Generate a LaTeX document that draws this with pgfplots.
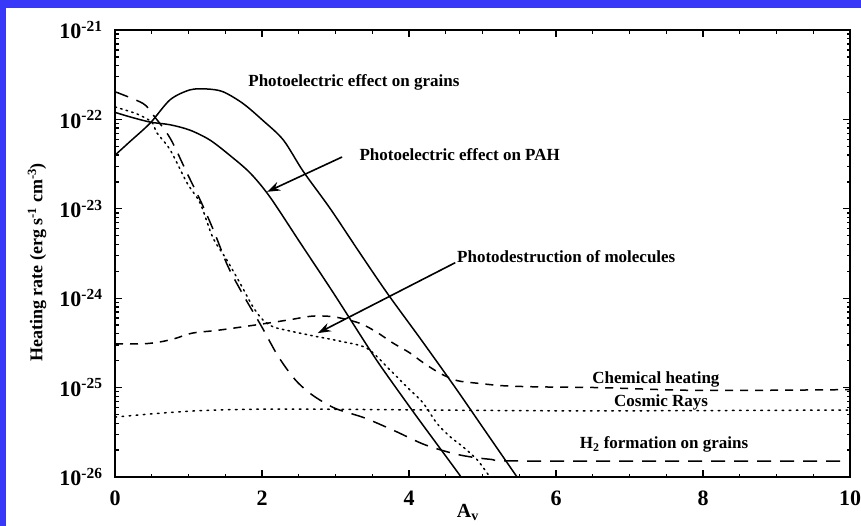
\documentclass[border=0pt]{standalone}
\usepackage{fontspec}
\setmainfont{Liberation Serif}
\usepackage{pgfplots}
\pgfplotsset{compat=1.18}
\usetikzlibrary{arrows.meta}
\definecolor{frameblue}{RGB}{56,56,248}
\newcommand{\lab}{\fontsize{17}{20}\selectfont\bfseries}
\begin{document}
\begin{tikzpicture}[x=1pt,y=1pt]
\path[use as bounding box] (0,0) rectangle (861,526);
\fill[frameblue] (0,0) rectangle (861,526);
\fill[white] (6,0) rectangle (861,518);
\begin{axis}[
    at={(115pt,49pt)}, anchor=south west, scale only axis,
    width=735pt, height=447pt,
    xmin=0, xmax=10, ymode=log, ymin=1e-26, ymax=1e-21,
    xtick={0,2,4,6,8,10}, xticklabels={0,2,4,6,8,10},
    minor x tick num=3,
    ytick={1e-26,1e-25,1e-24,1e-23,1e-22,1e-21},
    yticklabels={10\textsuperscript{-26},10\textsuperscript{-25},
        10\textsuperscript{-24},10\textsuperscript{-23},
        10\textsuperscript{-22},10\textsuperscript{-21}},
    tick label style={font=\fontsize{22}{24}\selectfont\bfseries},
    xticklabel style={yshift=-10pt},
    yticklabel style={xshift=-9pt},
    axis line style={line width=1.8pt},
    tick style={line width=1.3pt, black},
    major tick length=7pt, minor tick length=3.5pt,
    xlabel={A\textsubscript{v}},
    xlabel style={font=\fontsize{20}{22}\selectfont\bfseries,
        at={(axis description cs:0.48,-0.08)}, anchor=center},
    ylabel={Heating rate (erg s\textsuperscript{-1} cm\textsuperscript{-3})},
    ylabel style={font=\fontsize{18}{20}\selectfont\bfseries,
        at={(axis description cs:-0.106,0.48)}, anchor=center},
    every axis plot/.append style={line width=1.5pt, black, smooth,
        line join=round},
]
    % photoelectric effect on grains
    \addplot[solid] coordinates {
        (0,3.98e-23) (0.20,5.62e-23) (0.48,9.12e-23) (0.75,1.66e-22)
        (1.02,2.14e-22) (1.25,2.19e-22) (1.47,2.04e-22) (1.74,1.51e-22)
        (2.01,9.77e-23) (2.29,5.89e-23) (2.56,2.63e-23) (2.93,1.0e-23)
        (3.32,3.31e-24) (3.71,1.12e-24) (4.17,3.39e-25) (4.63,1.0e-25)
        (5.05,3.16e-26) (5.47,1.0e-26) (5.52,8.8e-27)};
    % photoelectric effect on PAH
    \addplot[solid] coordinates {
        (0,1.20e-22) (0.20,1.07e-22) (0.48,9.33e-23) (0.75,8.71e-23)
        (1.02,7.59e-23) (1.29,5.89e-23) (1.56,3.98e-23) (1.84,2.51e-23)
        (2.11,1.35e-23) (2.52,4.17e-24) (2.97,1.15e-24) (3.43,2.95e-25)
        (3.65,1.58e-25) (4.11,4.68e-26) (4.69,1.05e-26) (4.73,9.1e-27)};
    % photodestruction of molecules
    \addplot[dash pattern=on 1.6pt off 4.2pt, line cap=round] coordinates {
        (0,1.38e-22) (0.30,1.15e-22) (0.50,9.33e-23) (0.57,7.08e-23)
        (0.75,4.57e-23) (0.98,1.95e-23) (1.16,1.15e-23) (1.33,4.79e-24)
        (1.52,2.69e-24) (1.70,1.48e-24) (1.88,7.94e-25) (2.01,5.75e-25)
        (2.15,4.79e-25) (2.34,4.37e-25) (2.69,3.80e-25) (3.06,3.31e-25)
        (3.43,2.75e-25) (3.74,1.58e-25) (3.97,1.02e-25) (4.19,6.76e-26)
        (4.38,3.98e-26) (4.56,2.82e-26) (4.73,2.19e-26) (4.93,1.55e-26)
        (5.10,1.0e-26)};
    % H2 formation on grains
    \addplot[dash pattern=on 14pt off 9pt] coordinates {
        (0,2.04e-22) (0.38,1.51e-22) (0.52,1.12e-22) (0.75,6.17e-23)
        (0.98,2.51e-23) (1.18,1.15e-23) (1.35,5.50e-24) (1.54,2.24e-24)
        (1.77,1.00e-24) (1.99,4.90e-25) (2.22,2.24e-25) (2.45,1.23e-25)
        (2.68,8.32e-26) (2.99,5.89e-26) (3.40,4.57e-26) (3.82,3.24e-26)
        (4.22,2.29e-26) (4.67,1.78e-26) (5.10,1.58e-26) (5.65,1.51e-26)
        (10,1.51e-26)};
    % chemical heating
    \addplot[dash pattern=on 8pt off 7pt] coordinates {
        (0,3.09e-25) (0.38,3.09e-25) (0.61,3.24e-25) (0.82,3.55e-25)
        (1.05,4.07e-25) (1.39,4.37e-25) (1.74,4.79e-25) (2.07,5.25e-25)
        (2.38,5.75e-25) (2.69,6.31e-25) (2.99,6.17e-25) (3.33,5.25e-25)
        (3.56,4.17e-25) (3.78,3.16e-25) (4.01,2.45e-25) (4.19,1.91e-25)
        (4.42,1.45e-25) (4.65,1.20e-25) (4.93,1.12e-25) (5.28,1.05e-25)
        (5.74,1.02e-25) (6.6,1.0e-25) (7.96,9.3e-26) (10,9.5e-26)};
    % cosmic rays
    \addplot[dash pattern=on 1.6pt off 5.5pt, line cap=round] coordinates {
        (0,4.68e-26) (0.71,5.25e-26) (1.39,5.62e-26) (2.52,5.75e-26)
        (6.19,5.50e-26) (10,5.62e-26)};

    \node[font=\lab] at (3.25,2.6e-22) {Photoelectric effect on grains};
    \node[font=\lab] at (4.69,4.0e-23) {Photoelectric effect on PAH};
    \node[font=\lab] at (6.14,2.95e-24) {Photodestruction of molecules};
    \node[font=\lab] at (7.36,1.22e-25) {Chemical heating};
    \node[font=\lab] at (7.43,6.8e-26) {Cosmic Rays};
    \node[font=\lab] at (7.47,2.3e-26) {H\textsubscript{2} formation on grains};
    \draw[line width=1.6pt, -{Stealth[length=13pt,width=9pt]}]
        (3.09,3.8e-23) -- (2.07,1.55e-23);
    \draw[line width=1.6pt, -{Stealth[length=13pt,width=9pt]}]
        (4.63,2.5e-24) -- (2.76,4.07e-25);
\end{axis}
\end{tikzpicture}
\end{document}
